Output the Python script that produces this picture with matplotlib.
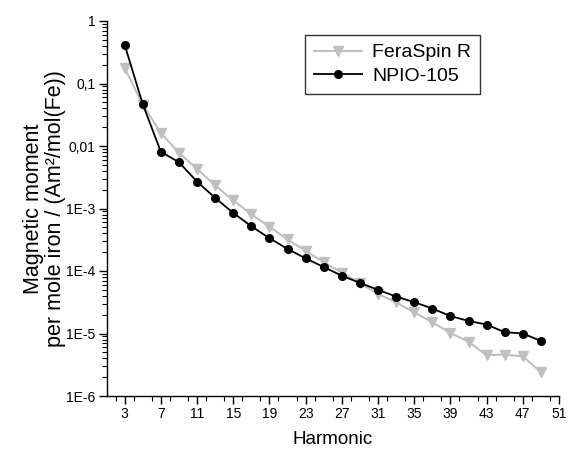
import matplotlib
matplotlib.use("Agg")
import matplotlib.pyplot as plt
from matplotlib.ticker import LogLocator, NullFormatter, MultipleLocator

plt.rcParams['font.family'] = ['Liberation Sans', 'DejaVu Sans']

harmonics = [3, 5, 7, 9, 11, 13, 15, 17, 19, 21, 23, 25, 27, 29, 31, 33, 35, 37, 39, 41, 43, 45, 47, 49]
feraspin = [0.179, 0.046, 0.0162, 0.0078, 0.0043, 0.00235, 0.00135, 8.1e-4, 5.1e-4, 3.2e-4,
            2.1e-4, 1.38e-4, 9.4e-5, 6.4e-5, 4.3e-5, 3.15e-5, 2.18e-5, 1.51e-5, 1.02e-5, 7.4e-6,
            4.5e-6, 4.6e-6, 4.3e-6, 2.4e-6]
npio = [0.42, 0.047, 0.0081, 0.0055, 0.0027, 0.00148, 8.5e-4, 5.2e-4, 3.35e-4, 2.26e-4,
        1.59e-4, 1.16e-4, 8.4e-5, 6.45e-5, 5.0e-5, 3.9e-5, 3.17e-5, 2.51e-5, 1.9e-5, 1.59e-5,
        1.39e-5, 1.05e-5, 1.0e-5, 7.6e-6]

xticks = [3, 7, 11, 15, 19, 23, 27, 31, 35, 39, 43, 47, 51]
yticks = [1, 0.1, 0.01, 1e-3, 1e-4, 1e-5, 1e-6]
ytick_labels = ["1", "0,1", "0,01", "1E-3", "1E-4", "1E-5", "1E-6"]

fig = plt.figure(figsize=(5.68, 4.54), dpi=100)
ax = fig.add_axes([106.5/568, 1-396/454, (559-106.5)/568, (396-21)/454])

ax.plot(harmonics, feraspin, color='#c0c0c0', lw=1.5, marker='v', ms=6.5,
        mec='#c0c0c0', mfc='#c0c0c0', label='FeraSpin R')
ax.plot(harmonics, npio, color='black', lw=1.3, marker='o', ms=5.5,
        label='NPIO-105')

ax.set_yscale('log')
ax.set_xlim(1, 51)
ax.set_ylim(1e-6, 1)
ax.set_yticks(yticks)
ax.set_yticklabels(ytick_labels)
ax.yaxis.set_minor_locator(LogLocator(base=10, subs=range(2, 10), numticks=20))
ax.yaxis.set_minor_formatter(NullFormatter())
ax.set_xticks(xticks)
ax.xaxis.set_minor_locator(MultipleLocator(2))

for s in ['top', 'right']:
    ax.spines[s].set_visible(False)
for s in ['left', 'bottom']:
    ax.spines[s].set_linewidth(1.0)

ax.tick_params(which='major', direction='out', length=6, width=1, labelsize=10, pad=2)
ax.tick_params(which='minor', direction='out', length=3.5, width=0.8)

ax.set_xlabel('Harmonic', fontsize=13.5, labelpad=7)
ax.set_ylabel('Magnetic moment\nper mole iron / (Am²/mol(Fe))', fontsize=15.5, labelpad=0,
              linespacing=1.05)

leg = ax.legend(loc='upper left', bbox_to_anchor=((305-106.5)/452.5, (396-35)/375),
                borderaxespad=0, fontsize=14, frameon=True, fancybox=False,
                edgecolor='black', handlelength=2.5, handletextpad=0.5,
                borderpad=0.45, labelspacing=0.3)
leg.get_frame().set_linewidth(1.0)

fig.savefig('out.png', dpi=100)
